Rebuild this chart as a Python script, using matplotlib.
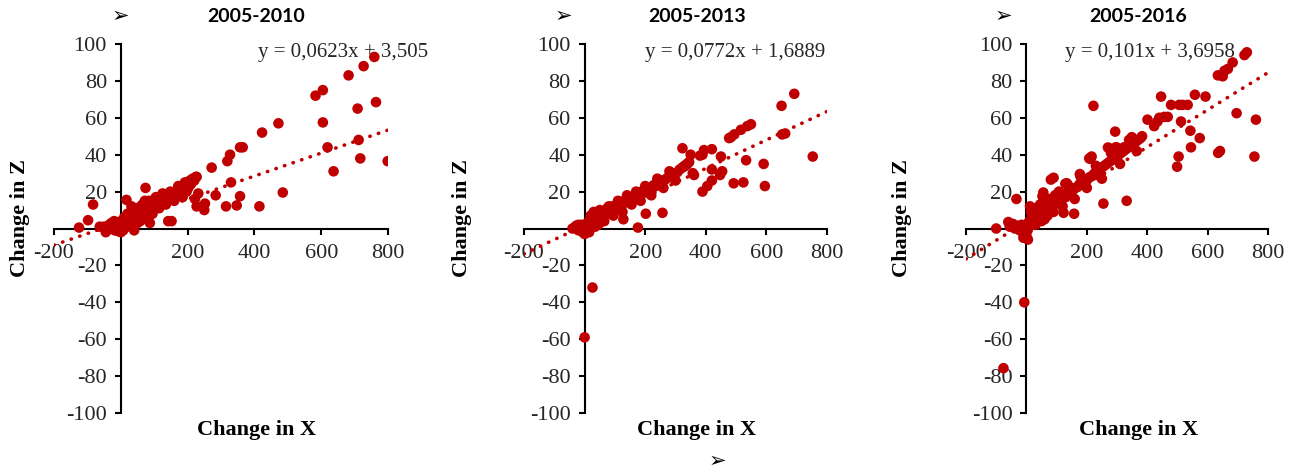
import matplotlib
matplotlib.use("Agg")
import matplotlib.pyplot as plt
import numpy as np

# ---- data ----
titles = ["2005-2010", "2005-2013", "2005-2016"]
slopes = [0.0623, 0.0772, 0.101]
intercepts = [3.505, 1.6889, 3.6958]
equations = ["y = 0,0623x + 3,505", "y = 0,0772x + 1,6889", "y = 0,101x + 3,6958"]

# 2005-2010: scattered points
out1_x = [-83, -98, -125, -63, -28, 17, 74, 72, 87, 32, 142, 152, 197, 227, 207, 232, 222, 227, 252, 250,
          284, 272, 319, 327, 330, 315, 347, 357, 357, 365, 415, 423, 472, 485, 583, 605, 605, 619, 637, 682,
          727, 759, 709, 764, 712, 717, 799]
out1_z = [13, 4.5, 0.5, 1, 3, 15.5, 22, 15, 3, 12, 4, 4, 20, 28, 26, 19, 16, 12, 13.5, 10,
          18, 33, 36.5, 40, 25, 12, 12.5, 17.5, 44, 44, 12, 52, 57, 19.5, 72, 75, 57.5, 44, 31, 83,
          88, 93, 65, 68.5, 48, 38, 36.5]
# 2005-2010: dense band near origin
band1_x = [-50, -42, -35, -30, -24, -18, -14, -10, -7, -4, -2, 0, 1, 3, 5, 7, 9, 11, 13, 15,
           17, 19, 21, 23, 25, 27, 29, 31, 34, 36, 38, 40, 42, 44, 46, 48, 50, 52, 55, 57,
           60, 62, 64, 66, 68, 70, 73, 76, 78, 80, 83, 85, 88, 90, 93, 95, 98, 100, 103, 106,
           110, 113, 116, 120, 124, 128, 132, 136, 140, 145, 150, 155, 160, 165, 170, 176, 182, 188, 193, 198,
           202, 205, 210, 215, 220, 225,
           20, 35, 45, 58, 65, 75, 85, 95, 105, 115, 125, 135, 148, 160, 172, 185, 192, 60, 40, -20,
           -45, 10, 30, 50]
band1_z = [1, -0.5, 2, 0, 1.5, -1, 2.5, 0.5, -1.5, 3, 1, -2, 4, 0, 2.5, -1, 3, 1, 5, 2,
           3.5, 1, 4, 6, 3, 5, 2, 6.5, 4, 7, 5, 8, 6, 4, 7.5, 9, 6, 8, 10, 7,
           8.5, 5.5, 10, 8, 11, 7, 9.5, 12, 8.5, 10.5, 12.5, 9, 11, 13, 10.5, 12, 14, 11.5, 13, 15,
           12.5, 14, 16, 13.5, 15, 17, 15.5, 16.5, 18, 16, 17.5, 19, 18, 20, 19, 21, 20, 22, 21, 24,
           22, 25.5, 24, 27, 26, 28,
           8, 2, 11, 4, 13, 6, 15, 8, 17, 11, 19, 13, 20, 15, 23, 17, 25, 12, -1, 4,
           -2, 6, 9, 3]

# 2005-2013
out2_x = [692, 650, 753, 662, 652, 549, 537, 516, 494, 477, 483, 533, 591, 595, 524, 492, 454, 447, 420, 420,
          405, 389, 450, 420, 394, 389, 381, 323, 350, 357, 361, 328, 339, 257, 202, 176, 128, 26, 0, -33]
out2_z = [73, 66.5, 39, 51.5, 51, 56.5, 55.5, 53.5, 51, 49, 49.5, 37, 35, 23, 25, 24.5, 31, 29, 26, 32,
          23, 20, 39, 43, 42.5, 40, 39.5, 43.5, 40, 30, 29, 33.5, 35, 8.5, 8, 0.5, 5, -32, -59, 0.5]
band2_x = [-40, -28, -20, -15, -10, -6, -3, 0, 2, 4, 6, 8, 10, 12, 14, 16, 18, 20, 22, 25,
           28, 30, 33, 36, 39, 42, 45, 48, 51, 54, 57, 60, 64, 68, 72, 76, 80, 84, 88, 92,
           96, 100, 105, 110, 115, 120, 125, 130, 135, 140, 146, 152, 158, 164, 170, 176, 182, 188, 194, 200,
           207, 214, 221, 228, 235, 242, 250, 258, 266, 274, 282, 290, 298, 306, 314, 322, 330, 338, 345,
           20, 35, 50, 65, 80, 95, 110, 125, 140, 155, 170, 185, 200, 220, 240, 260, 280, 300, 30, 45,
           75, 15, -20, 60]
band2_z = [0, 1.5, -1, 0.5, 2, -2, 0, -3, 1.5, -0.5, 2.5, 0, 3, 1, 4, 2, 3, 5, 2.5, 4,
           6, 3.5, 5, 7, 4.5, 6, 8, 5.5, 7, 9, 6.5, 8, 7, 9, 8, 10, 9, 11, 10, 12,
           10.5, 12, 11.5, 13, 12.5, 14, 13, 15, 14.5, 16, 15, 16.5, 16, 17.5, 17, 18.5, 19, 20, 19.5, 21,
           20.5, 22, 22.5, 23.5, 23, 24.5, 25, 26, 26.5, 27.5, 28, 29, 30, 30.5, 32, 33, 34, 35, 36,
           7, 1, 10, 4, 12, 7, 15, 9, 18, 13, 20, 15, 23, 18, 27, 22, 31, 26, 9, 2,
           11, -2, 2, 4]

# 2005-2016
out3_x = [730, 722, 683, 667, 656, 634, 650, 696, 760, 755, 635, 641, 574, 543, 545, 512, 506, 517, 534, 558,
          593, 479, 446, 504, 499, 401, 423, 440, 456, 468, 434, 222, 332, 255, 294, 383, 349, 323, 296, 274,
          208, 216, 178, 81, 90, 56, 53, 134, 108, 123, 158, 12, -33, -100, -60, -7, -76, 129, 177, 212,
          270, 298]
out3_z = [95.5, 94, 90, 86.5, 85.5, 83, 82.5, 62.5, 59, 39, 41, 42, 49, 53, 44, 58, 67, 67, 67, 72.5,
          71.5, 67, 71.5, 39, 33.5, 59, 55.5, 60, 60.5, 60.5, 58, 66.5, 15, 13.5, 52.5, 50, 49.5, 44, 44, 43.5,
          38, 39, 29, 26.5, 27.5, 19.5, 17.5, 24.5, 20, 8.5, 8, 12, 16, 0, 3.5, -40, -75.7, 24.3, 29.5, 37.8,
          43.9, 44]
band3_x = [-55, -45, -38, -30, -22, -16, -12, -8, -5, -2, 0, 2, 4, 6, 8, 10, 13, 16, 19, 22,
           25, 28, 31, 34, 37, 40, 44, 48, 52, 56, 60, 64, 68, 72, 76, 80, 85, 90, 95, 100,
           106, 112, 118, 124, 130, 136, 142, 148, 155, 162, 169, 176, 183, 190, 197, 204, 211, 218, 226, 234,
           242, 250, 258, 266, 274, 282, 290, 298, 306, 314, 322, 330, 338, 346, 354, 362, 370, 378,
           15, 30, 45, 60, 75, 90, 105, 120, 140, 160, 180, 200, 230, 250, 280, 310, 340, 365, 25, 50,
           70, -10, 5, 95]
band3_z = [1, 2.5, 0, 1.5, -1, 2, -2, 0.5, -3, 1, -4, 2, -1, 3, 1, 4, 2, 5, 3, 6,
           4, 7, 5, 8, 6, 9, 7, 10, 8, 11, 9, 12, 10, 13, 11, 14, 12.5, 15, 13.5, 16,
           14.5, 17, 16, 18, 17, 19.5, 18.5, 20, 21, 22, 22.5, 24, 24.5, 25, 26, 27, 28, 28.5, 30, 30.5,
           32, 33, 34, 35, 36, 37, 38, 39, 40, 41, 42, 43, 44, 45.5, 46, 47, 48, 49,
           9, 2, 13, 5, 16, 9, 19, 12, 23, 16, 28, 22, 34, 27, 41, 35, 48, 42, 11, 4,
           7, -5, -6, 18]

panels_x = [out1_x + band1_x, out2_x + band2_x, out3_x + band3_x]
panels_z = [out1_z + band1_z, out2_z + band2_z, out3_z + band3_z]

# ---- layout (pixel positions measured on the 1292x474 picture) ----
W, H = 1292, 474
red = "#C00000"
serif = "Liberation Serif"

fig = plt.figure(figsize=(W / 100, H / 100), dpi=100)

ax_left_px = [54, 524, 966]
ax_width_px = [334, 303, 302]
title_cx = [256, 697, 1138]
xlabel_cx = [257, 697, 1139]
ylabel_cx = [20, 462, 902]
eq_left = [258, 645, 1065]
arrow_px = [(120, 16), (563, 16), (1003, 16), (717, 461)]

def fx(px):
    return px / W

def fy(py):
    return 1 - py / H

for i in range(3):
    ax = fig.add_axes([fx(ax_left_px[i]), fy(413), ax_width_px[i] / W, (413 - 44) / H])
    ax.scatter(panels_x[i], panels_z[i], s=58, color=red, edgecolors="none", zorder=3)

    xl = np.array([-200, 800])
    ax.plot(xl, slopes[i] * xl + intercepts[i], color=red, lw=2.6,
            linestyle=(0, (0.1, 2.4)), dash_capstyle="round", zorder=2)

    ax.set_xlim(-200, 800)
    ax.set_ylim(-100, 100)
    ax.spines["left"].set_position(("data", 0))
    ax.spines["bottom"].set_position(("data", 0))
    ax.spines["top"].set_visible(False)
    ax.spines["right"].set_visible(False)
    for s in ["left", "bottom"]:
        ax.spines[s].set_linewidth(1.5)
        ax.spines[s].set_color("black")
    ax.patch.set_alpha(0)

    xt = [-200, 0, 200, 400, 600, 800]
    ax.set_xticks(xt)
    ax.set_xticklabels([str(v) if v != 0 else "" for v in xt])
    yt = list(range(-100, 101, 20))
    ax.set_yticks(yt)
    ax.set_yticklabels([str(v) if v != 0 else "" for v in yt])
    ax.tick_params(axis="both", direction="out", length=4, width=1.5, labelsize=16,
                   colors="black", labelcolor="#262626")
    ax.tick_params(axis="x", pad=7)
    ax.tick_params(axis="y", pad=6)
    for lab in ax.get_xticklabels() + ax.get_yticklabels():
        lab.set_fontfamily(serif)

    fig.text(fx(title_cx[i]), fy(17), titles[i], ha="center", va="center",
             fontsize=14, fontweight="bold", family="Lato")
    fig.text(fx(eq_left[i]), fy(52), equations[i], ha="left", va="center",
             fontsize=15, family=serif, color="#262626")
    fig.text(fx(xlabel_cx[i]), fy(430), "Change in X", ha="center", va="center",
             fontsize=16, fontweight="bold", family=serif)
    fig.text(fx(ylabel_cx[i]), fy(218), "Change in Z", ha="center", va="center",
             rotation=90, fontsize=16, fontweight="bold", family=serif)

for (px, py) in arrow_px:
    fig.text(fx(px), fy(py), "\u27a2", ha="center", va="center", fontsize=15,
             family="DejaVu Sans")

fig.savefig("out.png", dpi=100)
